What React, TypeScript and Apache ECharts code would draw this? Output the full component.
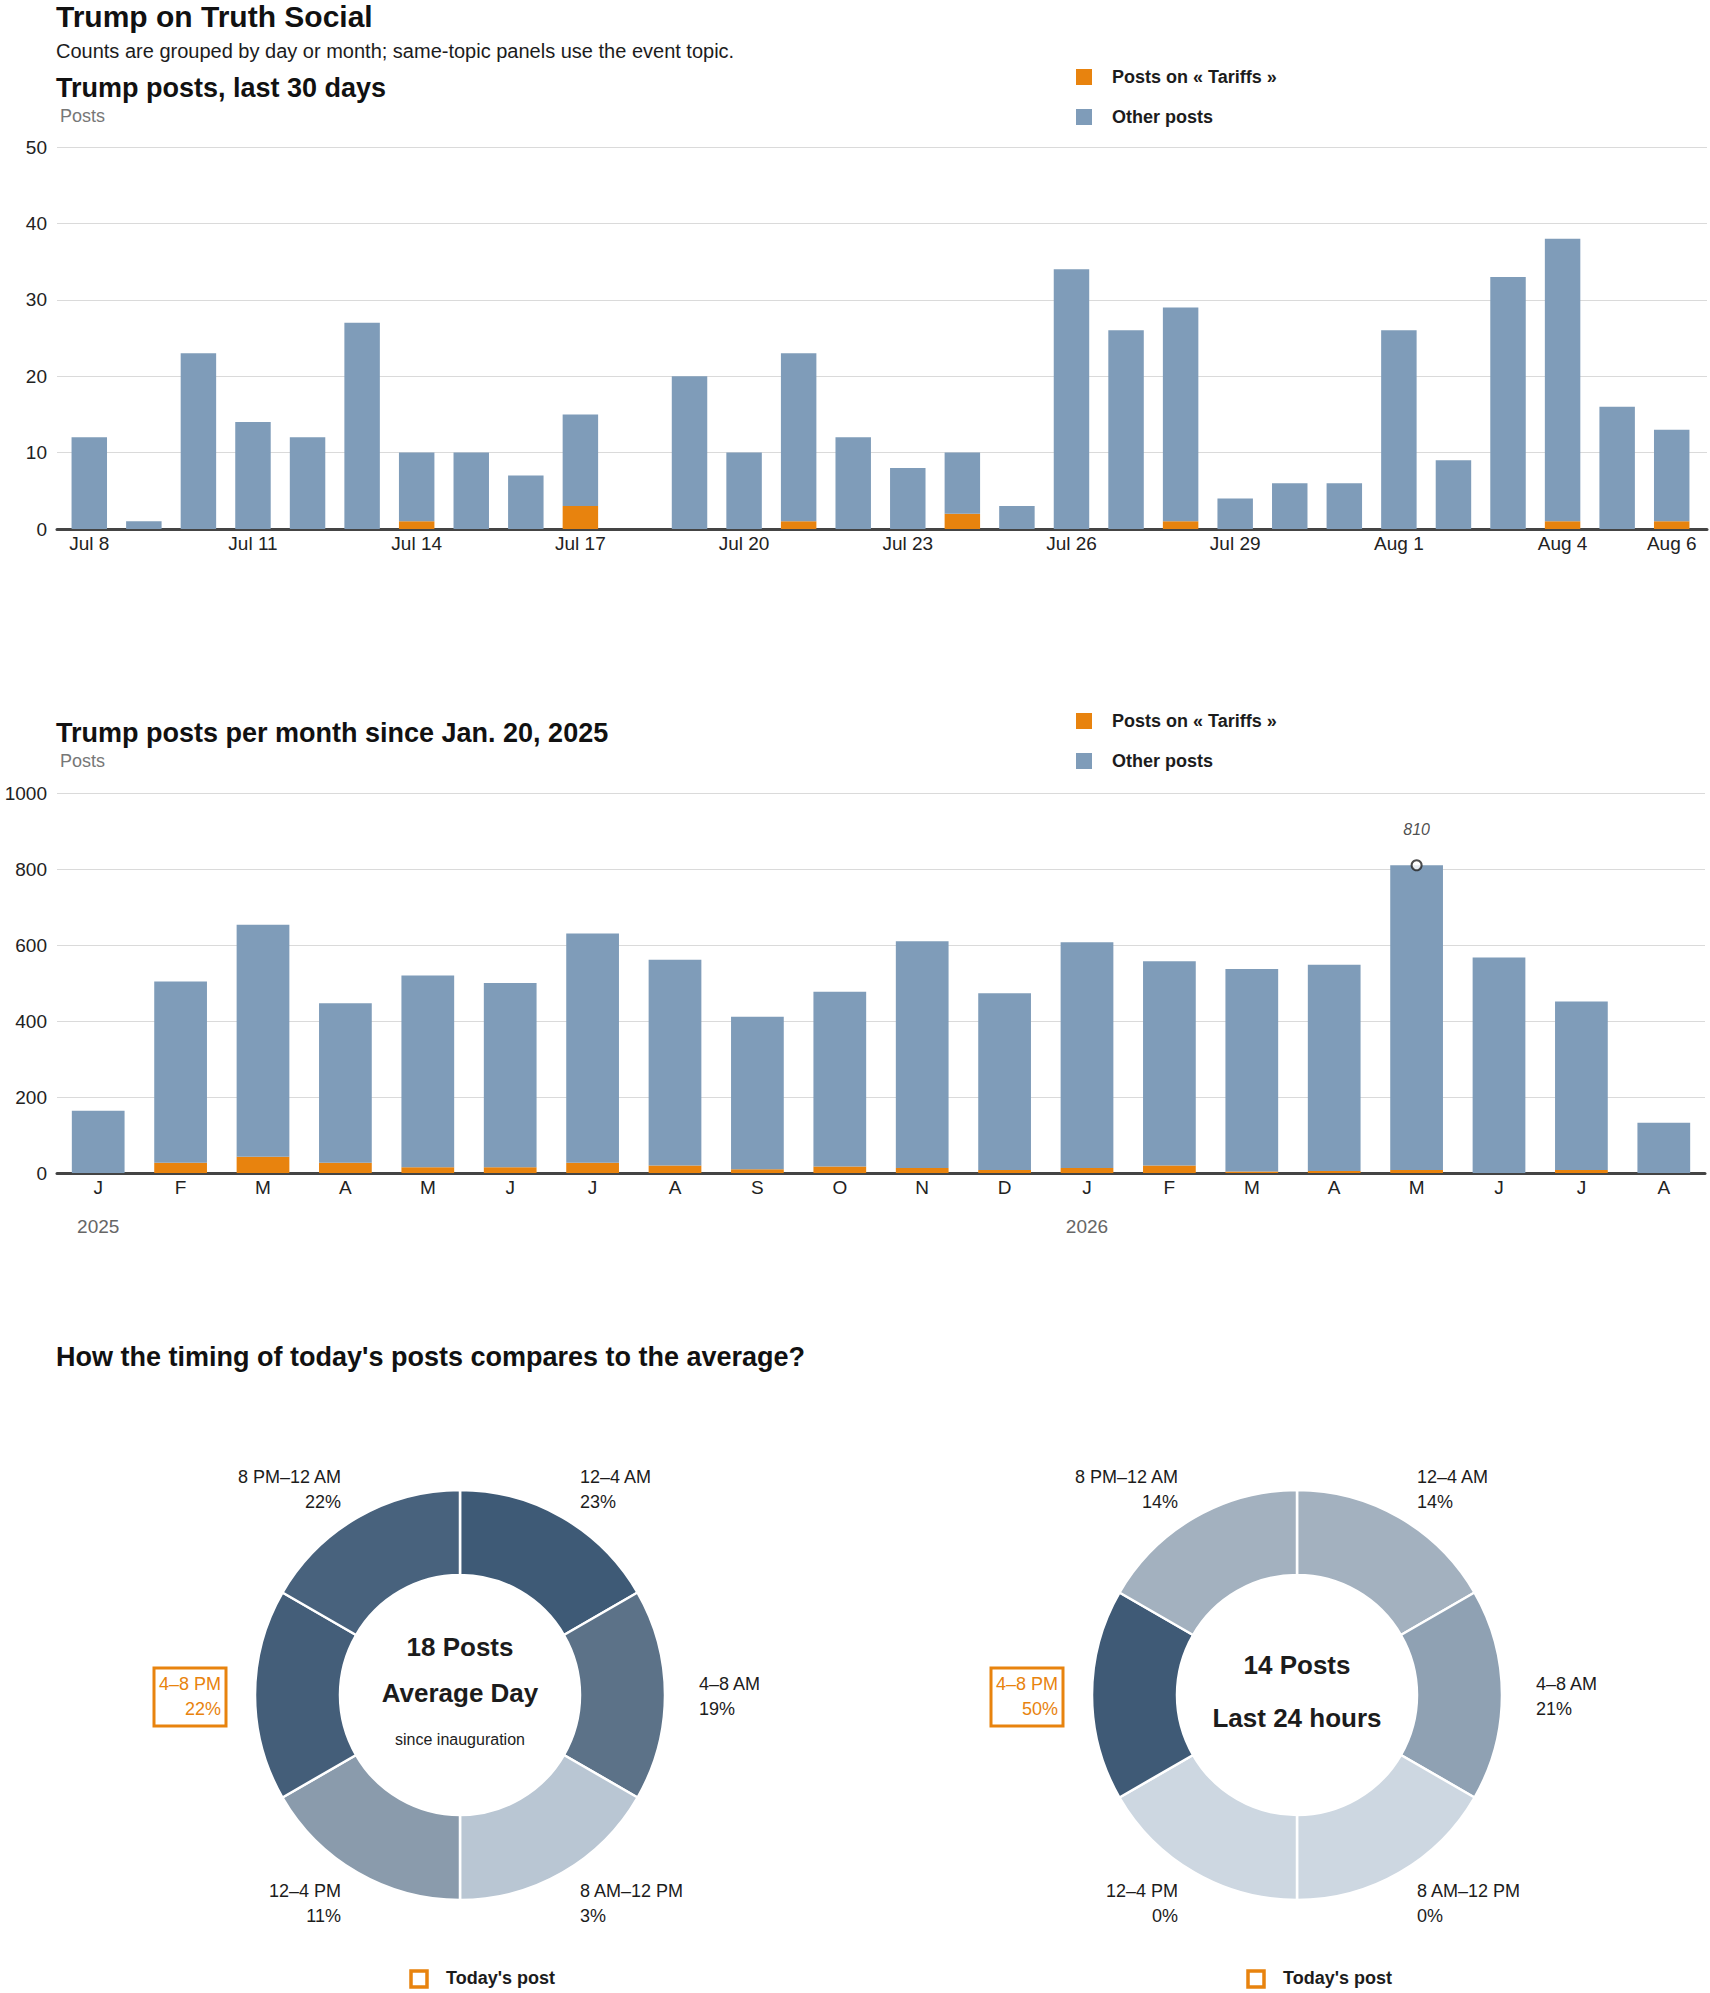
import React, { useEffect, useRef } from "react";
import * as echarts from "echarts";

// last 30 days
const dayLabels = [
  "Jul 8", "Jul 9", "Jul 10", "Jul 11", "Jul 12", "Jul 13", "Jul 14", "Jul 15", "Jul 16", "Jul 17",
  "Jul 18", "Jul 19", "Jul 20", "Jul 21", "Jul 22", "Jul 23", "Jul 24", "Jul 25", "Jul 26", "Jul 27",
  "Jul 28", "Jul 29", "Jul 30", "Jul 31", "Aug 1", "Aug 2", "Aug 3", "Aug 4", "Aug 5", "Aug 6",
];
const dayTotals = [12, 1, 23, 14, 12, 27, 10, 10, 7, 15, 0, 20, 10, 23, 12, 8, 10, 3, 34, 26, 29, 4, 6, 6, 26, 9, 33, 38, 16, 13];
const dayTariffs = [0, 0, 0, 0, 0, 0, 1, 0, 0, 3, 0, 0, 0, 1, 0, 0, 2, 0, 0, 0, 1, 0, 0, 0, 0, 0, 0, 1, 0, 1];

// per month since inauguration
const monthKeys = [
  "2025-01", "2025-02", "2025-03", "2025-04", "2025-05", "2025-06", "2025-07", "2025-08", "2025-09", "2025-10",
  "2025-11", "2025-12", "2026-01", "2026-02", "2026-03", "2026-04", "2026-05", "2026-06", "2026-07", "2026-08",
];
const monthInitials = ["J", "F", "M", "A", "M", "J", "J", "A", "S", "O", "N", "D"];
const monthTotals = [164, 504, 653, 447, 520, 500, 630, 561, 411, 477, 610, 473, 607, 557, 537, 548, 810, 567, 451, 132];
const monthTariffs = [0, 27, 43, 27, 15, 15, 27, 20, 10, 17, 13, 8, 13, 20, 4, 5, 8, 0, 8, 0];

// timing donuts
const periods = ["12–4 AM", "4–8 AM", "8 AM–12 PM", "12–4 PM", "4–8 PM", "8 PM–12 AM"];
const blockHours = [4, 4, 4, 4, 4, 4];
const averageShare = [23, 19, 3, 11, 22, 22];
const todayShare = [14, 21, 0, 0, 50, 14];
const averagePosts = 18;
const todayPosts = 14;
const todaySlot = 4;

const ORANGE = "#e8830e";
const BLUE = "#7f9cb9";
const INK = "#1c1c1c";
const SANS = "'Liberation Sans', Arial, sans-serif";
const NARROW = "'Liberation Sans Narrow', 'Arial Narrow', 'Liberation Sans', sans-serif";

const avgColors = ["#3e5a76", "#5c7288", "#b9c6d3", "#8a9bac", "#445e79", "#48627d"];
const todayColors = ["#a3b1bf", "#8fa1b3", "#cdd7e1", "#cdd7e1", "#3f5a76", "#a3b1bf"];

// label anchor relative to donut center: dx, dy (first line), align
const labelSpots: Array<[number, number, string]> = [
  [120, -218, "left"],
  [239, -11, "left"],
  [120, 196, "left"],
  [-119, 196, "right"],
  [-239, -11, "right"],
  [-119, -218, "right"],
];

const heading = (text: string, x: number, y: number, size: number) => ({
  type: "text",
  x,
  y,
  style: { text, fontSize: size, fontWeight: "bold", fontFamily: SANS, fill: "#111", verticalAlign: "middle" },
});

const plain = (text: string, x: number, y: number, size: number, fill: string) => ({
  type: "text",
  x,
  y,
  style: { text, fontSize: size, fontFamily: SANS, fill, verticalAlign: "middle" },
});

function donutGraphics(cx: number, cy: number, shares: number[], center: any[]) {
  const out: any[] = [];
  shares.forEach((s, i) => {
    const [dx, dy, align] = labelSpots[i];
    out.push({
      type: "text",
      x: cx + dx,
      y: cy + dy - 12.5,
      style: {
        text: `${periods[i]}\n${s}%`,
        fontSize: 18,
        lineHeight: 25,
        fontFamily: SANS,
        fill: i === todaySlot ? ORANGE : INK,
        align,
        verticalAlign: "top",
      },
    });
    if (i === todaySlot) {
      out.push({
        type: "rect",
        shape: { x: cx + dx - 67, y: cy + dy - 16, width: 72, height: 58 },
        style: { fill: "none", stroke: ORANGE, lineWidth: 3 },
      });
    }
  });
  center.forEach((c) => {
    out.push({
      type: "text",
      x: cx,
      y: cy + c.dy,
      style: {
        text: c.text,
        fontSize: c.size,
        fontWeight: c.bold ? "bold" : "normal",
        fontFamily: SANS,
        fill: INK,
        align: "center",
        verticalAlign: "middle",
      },
    });
  });
  out.push({
    type: "rect",
    shape: { x: cx - 49, y: 1971, width: 16, height: 16 },
    style: { fill: "#fff", stroke: ORANGE, lineWidth: 3.5 },
  });
  out.push({
    type: "text",
    x: cx - 14,
    y: 1978,
    style: { text: "Today's post", fontSize: 18, fontWeight: "bold", fontFamily: SANS, fill: INK, verticalAlign: "middle" },
  });
  return out;
}

const AVG_C: [number, number] = [460, 1695];
const TODAY_C: [number, number] = [1297, 1695];

function buildOption(): any {
  const dayOther = dayTotals.map((t, i) => t - dayTariffs[i]);
  const monthOther = monthTotals.map((t, i) => t - monthTariffs[i]);
  const peak = monthTotals.indexOf(Math.max(...monthTotals));

  const axisLabel = { fontSize: 19, color: "#222", fontFamily: SANS };
  const baseLine = { lineStyle: { color: "#444", width: 3 } };
  const split = { lineStyle: { color: "#dadada", width: 1 } };

  const legendBase = {
    orient: "vertical",
    left: 1071,
    icon: "rect",
    itemWidth: 16,
    itemHeight: 16,
    itemGap: 22,
    selectedMode: false,
    data: ["Posts on « Tariffs »", "Other posts"],
    textStyle: { fontSize: 18, fontWeight: "bold", fontFamily: SANS, color: INK, padding: [0, 0, 0, 15], lineHeight: 16 },
  };

  return {
    animation: false,
    backgroundColor: "#fff",
    legend: [
      { ...legendBase, top: 63 },
      { ...legendBase, top: 707 },
    ],
    grid: [
      { left: 62, right: 11, top: 147, height: 382 },
      { left: 57, right: 5, top: 793, height: 380 },
      // full-width frame for the daily panel's rules and baseline
      { left: 57, right: 3, top: 147, height: 382 },
    ],
    xAxis: [
      {
        gridIndex: 0,
        type: "category",
        data: dayLabels,
        axisTick: { show: false },
        axisLine: { show: false },
        axisLabel: {
          ...axisLabel,
          margin: 5,
          interval: (i: number) => i % 3 === 0 || i === dayLabels.length - 1,
        },
      },
      {
        gridIndex: 1,
        type: "category",
        data: monthKeys,
        axisTick: { show: false },
        axisLine: baseLine,
        axisLabel: {
          ...axisLabel,
          margin: 5,
          interval: 0,
          formatter: (v: string) => monthInitials[Number(v.slice(5)) - 1],
        },
      },
      {
        gridIndex: 1,
        type: "category",
        data: monthKeys,
        position: "bottom",
        offset: 38,
        axisTick: { show: false },
        axisLine: { show: false },
        axisLabel: {
          ...axisLabel,
          color: "#666",
          margin: 6,
          interval: (_i: number, v: string) => v.endsWith("-01"),
          formatter: (v: string) => v.slice(0, 4),
        },
      },
      {
        gridIndex: 2,
        type: "value",
        min: 0,
        max: 1,
        axisLine: baseLine,
        axisTick: { show: false },
        axisLabel: { show: false },
        splitLine: { show: false },
      },
    ],
    yAxis: [
      {
        gridIndex: 0,
        type: "value",
        min: 0,
        max: 50,
        interval: 10,
        axisLine: { show: false },
        axisTick: { show: false },
        axisLabel: { ...axisLabel, margin: 15 },
        splitLine: { show: false },
      },
      {
        gridIndex: 1,
        type: "value",
        min: 0,
        max: 1000,
        interval: 200,
        axisLine: { show: false },
        axisTick: { show: false },
        axisLabel: { ...axisLabel, margin: 10, formatter: (v: number) => String(v) },
        splitLine: split,
      },
      {
        gridIndex: 2,
        type: "value",
        min: 0,
        max: 50,
        interval: 10,
        axisLine: { show: false },
        axisTick: { show: false },
        axisLabel: { show: false },
        splitLine: split,
      },
    ],
    series: [
      {
        name: "Posts on « Tariffs »",
        type: "bar",
        xAxisIndex: 0,
        yAxisIndex: 0,
        stack: "day",
        data: dayTariffs,
        itemStyle: { color: ORANGE },
        barCategoryGap: "35%",
        z: 3,
        silent: true,
      },
      {
        name: "Other posts",
        type: "bar",
        xAxisIndex: 0,
        yAxisIndex: 0,
        stack: "day",
        data: dayOther,
        itemStyle: { color: BLUE },
        barCategoryGap: "35%",
        z: 3,
        silent: true,
      },
      {
        name: "Posts on « Tariffs »",
        type: "bar",
        xAxisIndex: 1,
        yAxisIndex: 1,
        stack: "month",
        data: monthTariffs,
        itemStyle: { color: ORANGE },
        barCategoryGap: "36%",
        silent: true,
      },
      {
        name: "Other posts",
        type: "bar",
        xAxisIndex: 1,
        yAxisIndex: 1,
        stack: "month",
        data: monthOther,
        itemStyle: { color: BLUE },
        barCategoryGap: "36%",
        silent: true,
      },
      {
        name: "peak",
        type: "scatter",
        xAxisIndex: 1,
        yAxisIndex: 1,
        data: [[peak, monthTotals[peak]]],
        symbol: "circle",
        symbolSize: 10,
        z: 5,
        itemStyle: { color: "#fff", borderColor: "#222", borderWidth: 2 },
        label: {
          show: true,
          position: "top",
          distance: 22,
          formatter: (p: any) => String(p.value[1]),
          fontStyle: "italic",
          fontSize: 16,
          color: "#222",
          fontFamily: NARROW,
        },
        silent: true,
      },
      {
        name: "Average Day",
        type: "pie",
        center: AVG_C,
        radius: [120, 205],
        startAngle: 90,
        clockwise: true,
        label: { show: false },
        labelLine: { show: false },
        silent: true,
        itemStyle: { borderColor: "#fff", borderWidth: 2.5 },
        data: periods.map((p, i) => ({ name: p, value: blockHours[i], itemStyle: { color: avgColors[i] } })),
      },
      {
        name: "Last 24 hours",
        type: "pie",
        center: TODAY_C,
        radius: [120, 205],
        startAngle: 90,
        clockwise: true,
        label: { show: false },
        labelLine: { show: false },
        silent: true,
        itemStyle: { borderColor: "#fff", borderWidth: 2.5 },
        data: periods.map((p, i) => ({ name: p, value: blockHours[i], itemStyle: { color: todayColors[i] } })),
      },
    ],
    graphic: [
      heading("Trump on Truth Social", 56, 16, 30),
      plain("Counts are grouped by day or month; same-topic panels use the event topic.", 56, 51, 20, INK),
      heading("Trump posts, last 30 days", 56, 88, 27),
      plain("Posts", 60, 116, 18, "#777"),
      heading("Trump posts per month since Jan. 20, 2025", 56, 733, 27),
      plain("Posts", 60, 761, 18, "#777"),
      heading("How the timing of today's posts compares to the average?", 56, 1357, 27),
      ...donutGraphics(AVG_C[0], AVG_C[1], averageShare, [
        { text: `${averagePosts} Posts`, dy: -48, size: 26, bold: true },
        { text: "Average Day", dy: -2, size: 26, bold: true },
        { text: "since inauguration", dy: 44, size: 16, bold: false },
      ]),
      ...donutGraphics(TODAY_C[0], TODAY_C[1], todayShare, [
        { text: `${todayPosts} Posts`, dy: -30, size: 26, bold: true },
        { text: "Last 24 hours", dy: 23, size: 26, bold: true },
      ]),
    ],
  };
}

export default function App() {
  const ref = useRef<HTMLDivElement>(null);

  useEffect(() => {
    const chart = echarts.init(ref.current!, null, { renderer: "svg" });
    chart.setOption(buildOption());
    return () => {
      chart.dispose();
    };
  }, []);

  return (
    <div
      ref={ref}
      style={{ position: "absolute", left: 0, top: 0, width: 1710, height: 1993, background: "#fff" }}
    />
  );
}
